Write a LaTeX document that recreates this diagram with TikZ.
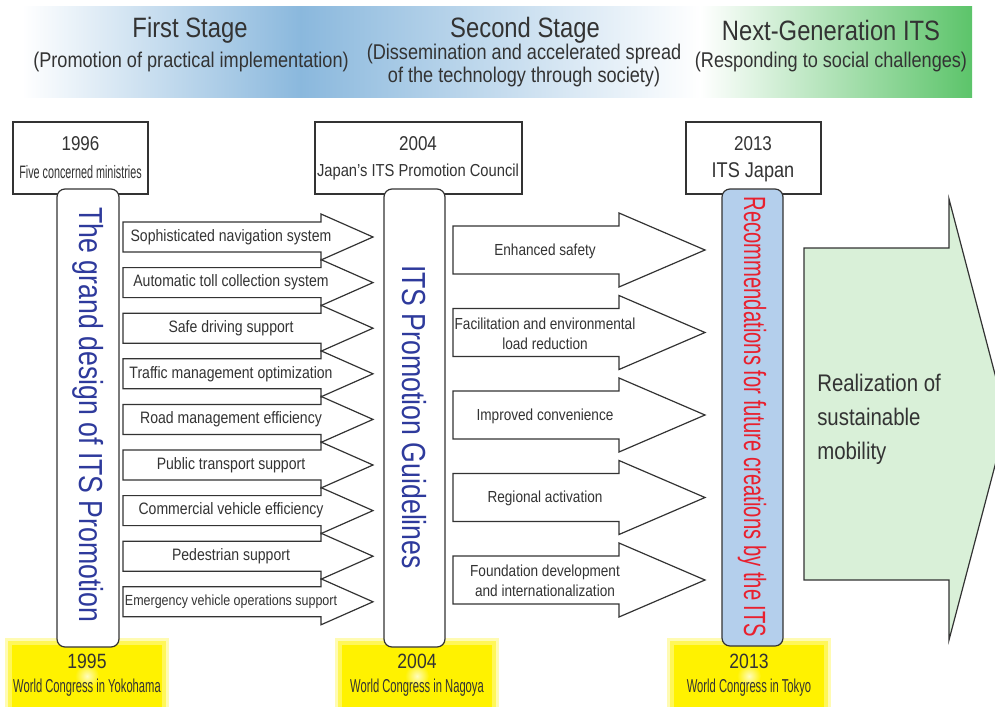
\documentclass[tikz,border=0pt]{standalone}
\usepackage{fontspec}
\setmainfont{Liberation Sans}[FakeStretch=0.85]
\newfontfamily\narrowfont{Liberation Sans}[FakeStretch=0.8]
\newfontfamily\slimfont{Liberation Sans}[FakeStretch=0.66]
\newfontfamily\thinfont{Liberation Sans}[FakeStretch=0.6]
\definecolor{bandblue}{HTML}{8AB8DD}
\definecolor{bandgreen}{HTML}{5CC46A}
\definecolor{inkgray}{HTML}{333333}
\definecolor{guideblue}{HTML}{2E3A9C}
\definecolor{recred}{HTML}{E8202E}
\definecolor{recfill}{HTML}{B4CFEC}
\definecolor{mobgreen}{HTML}{D9F0D8}
\definecolor{wcyellow}{HTML}{FFF200}
\tikzset{
  outline/.style={draw=inkgray, line width=0.9pt},
  shapebox/.style={outline, fill=white},
  pillar/.style={outline, fill=white, rounded corners=6pt},
  lbl/.style={text=inkgray, inner sep=0pt},
  pillartext/.style={rotate=-90, inner sep=0pt, font=\narrowfont\fontsize{25}{28}\selectfont},
}
\begin{document}
\begin{tikzpicture}[x=0.75pt, y=-0.75pt]
\clip (0,0) rectangle (995,707);
\useasboundingbox (0,0) rectangle (995,707);
% stage band
\fill[left color=white, right color=bandblue] (22,6) rectangle (301,97);
\fill[left color=bandblue, right color=white] (300,6) rectangle (701,97);
\fill[left color=white, right color=bandgreen] (700,6) rectangle (972,97);
\node[lbl, font=\fontsize{21}{25}\selectfont] (stage1) at (190,30) {First Stage};
\node[lbl, font=\fontsize{16}{17.25}\selectfont] (stage1sub) at (191,62) {(Promotion of practical implementation)};
\node[lbl, font=\fontsize{21}{25}\selectfont] (stage2) at (525,30) {Second Stage};
\node[lbl, font=\fontsize{16}{17.25}\selectfont, align=center] (stage2sub) at (524,65) {(Dissemination and accelerated spread\\of the technology through society)};
\node[lbl, font=\fontsize{21}{25}\selectfont] (stage3) at (831,30) {Next-Generation ITS};
\node[lbl, font=\fontsize{16}{17.25}\selectfont] (stage3sub) at (831,62) {(Responding to social challenges)};

% world congress glows
\foreach \gx in {87,417,749}{
  \fill[wcyellow!30] (\gx-82,638) rectangle (\gx+82,707);
  \fill[wcyellow!65] (\gx-79,641) rectangle (\gx+79,707);
  \fill[wcyellow] (\gx-75,645) rectangle (\gx+75,707);
  \shade[inner color=wcyellow!25, outer color=wcyellow] (\gx,676) circle (12);
}

% top boxes
\draw[shapebox] (13,122) rectangle (148,194);
\node[lbl, font=\fontsize{15}{17}\selectfont] (y1996) at (80.5,144) {1996};
\node[lbl, font=\thinfont\fontsize{13.5}{15}\selectfont] (minist) at (80.5,172) {Five concerned ministries};
\draw[shapebox] (315,122) rectangle (522,194);
\node[lbl, font=\fontsize{15}{17}\selectfont] (y2004) at (418,144) {2004};
\node[lbl, font=\fontsize{13}{15}\selectfont] (council) at (418,172) {Japan’s ITS Promotion Council};
\draw[shapebox] (686,122) rectangle (821,194);
\node[lbl, font=\fontsize{15}{17}\selectfont] (y2013) at (753,144) {2013};
\node[lbl, font=\fontsize{16}{18}\selectfont] (itsjp) at (753,172) {ITS Japan};

% pillars
\draw[pillar] (57,189) rectangle (119,647);
\node[pillartext, text=guideblue] (grand) at (88,415) {The grand design of ITS Promotion};
\draw[pillar] (384,189) rectangle (445,647);
\node[pillartext, text=guideblue] (guide) at (414,417) {ITS Promotion Guidelines};
\draw[pillar, fill=recfill] (722,189) rectangle (783,646);
\node[pillartext, text=recred, font=\slimfont\fontsize{23}{26}\selectfont] (recom) at (752,417) {Recommendations for future creations by the ITS};

% first stage arrows
\foreach \txt [count=\i] in {Sophisticated navigation system, Automatic toll collection system,
  Safe driving support, Traffic management optimization, Road management efficiency,
  Public transport support, Commercial vehicle efficiency, Pedestrian support,
  {{\fontsize{11}{13}\selectfont Emergency vehicle operations support}}}{
  \pgfmathsetmacro\yc{237+(\i-1)*45.6}
  \draw[shapebox, line join=miter] (123,\yc-15) -- (321,\yc-15) -- (321,\yc-23) -- (373,\yc)
    -- (321,\yc+23) -- (321,\yc+15) -- (123,\yc+15) -- cycle;
  \node[lbl, font=\fontsize{12.4}{14}\selectfont] (first\i) at (231,\yc) {\txt};
}

% second stage arrows
\foreach \txt [count=\i] in {Enhanced safety, {Facilitation and environmental\\load reduction},
  Improved convenience, Regional activation, {Foundation development\\and internationalization}}{
  \pgfmathsetmacro\yc{250+(\i-1)*82.5}
  \draw[shapebox, line join=miter] (453,\yc-24) -- (619,\yc-24) -- (619,\yc-37) -- (705,\yc)
    -- (619,\yc+37) -- (619,\yc+24) -- (453,\yc+24) -- cycle;
  \node[lbl, align=center, font=\fontsize{12}{15}\selectfont] (second\i) at (545,\yc+1) {\txt};
}

% next generation arrow
\draw[outline, fill=mobgreen, line join=miter] (804,248) -- (949,248) -- (949,199) -- (1007,420)
  -- (949,640) -- (949,580) -- (804,580) -- cycle;
\node[lbl, align=left, anchor=west, font=\fontsize{18}{25.5}\selectfont] (mobility) at (817,419)
  {Realization of\\sustainable\\mobility};

% world congress labels
\node[lbl, font=\fontsize{15.5}{17}\selectfont] (wc1995) at (87,661) {1995};
\node[lbl, font=\thinfont\fontsize{14}{16}\selectfont] (yokohama) at (87,688) {World Congress in Yokohama};
\node[lbl, font=\fontsize{15.5}{17}\selectfont] (wc2004) at (417,661) {2004};
\node[lbl, font=\thinfont\fontsize{14}{16}\selectfont] (nagoya) at (417,688) {World Congress in Nagoya};
\node[lbl, font=\fontsize{15.5}{17}\selectfont] (wc2013) at (749,661) {2013};
\node[lbl, font=\thinfont\fontsize{14}{16}\selectfont] (tokyo) at (749,688) {World Congress in Tokyo};
\end{tikzpicture}
\end{document}
